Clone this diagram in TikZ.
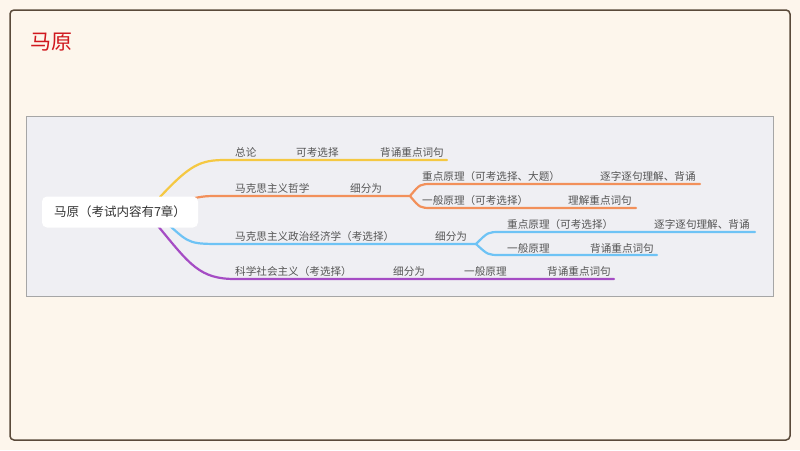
\documentclass[tikz,border=0pt]{standalone}
\usepackage{fontspec}
\setmainfont{Noto Sans CJK SC}
\definecolor{cream}{HTML}{FDF6EC}
\definecolor{frame}{HTML}{5A4A3A}
\definecolor{panel}{HTML}{EFEFF3}
\definecolor{ttl}{HTML}{D0181E}
\definecolor{yel}{HTML}{F5C842}
\definecolor{ora}{HTML}{F2905A}
\definecolor{blu}{HTML}{6EC3F5}
\definecolor{pur}{HTML}{A54CC4}
\definecolor{txt}{HTML}{555555}
\begin{document}
\begin{tikzpicture}[x=1pt,y=-1pt,
  lbl/.style={anchor=west,inner sep=0pt,text=txt,font=\fontsize{10.6}{12}\selectfont},
  br/.style={line width=2.2pt,line cap=round}]
\useasboundingbox (0,0) rectangle (800,450);
\fill[cream] (0,0) rectangle (800,450);
\draw[frame,line width=1.5pt,rounded corners=4pt] (10,10) rectangle (790,440);
\node[text=ttl,font=\fontsize{21}{24}\selectfont] (title) at (51,42) {马原};
\draw[fill=panel,draw=gray!70] (26,116) rectangle (773,296);
% branches
\draw[br,yel] (160,197) .. controls (190,165) and (200,160) .. (225,160) -- (447,160);
\draw[br,ora] (195,198) .. controls (205,196) .. (225,196) -- (410,196);
\draw[br,ora] (410,196) .. controls (420,184) .. (432,184) -- (700,184);
\draw[br,ora] (410,196) .. controls (420,208) .. (432,208) -- (636,208);
\draw[br,blu] (170,226) .. controls (190,244) .. (225,244) -- (476,244);
\draw[br,blu] (476,244) .. controls (488,232) .. (500,232) -- (755,232);
\draw[br,blu] (476,244) .. controls (488,255) .. (500,255) -- (657,255);
\draw[br,pur] (158,226) .. controls (190,265) and (200,279) .. (235,279) -- (614,279);
\node[fill=white,rounded corners=5pt,minimum width=156pt,minimum height=31pt,font=\fontsize{12.5}{14}\selectfont,text=black!80] (root) at (120,212) {马原（考试内容有7章）};
% labels
\node[lbl] (a1) at (235,152) {总论};
\node[lbl] (a2) at (296,152) {可考选择};
\node[lbl] (a3) at (380,152) {背诵重点词句};
\node[lbl] (b1) at (235,188) {马克思主义哲学};
\node[lbl] (b2) at (350,188) {细分为};
\node[lbl] (b3) at (422,176) {重点原理（可考选择、大题）};
\node[lbl] (b4) at (600,176) {逐字逐句理解、背诵};
\node[lbl] (b5) at (422,200) {一般原理（可考选择）};
\node[lbl] (b6) at (568,200) {理解重点词句};
\node[lbl] (c1) at (235,236) {马克思主义政治经济学（考选择）};
\node[lbl] (c2) at (435,236) {细分为};
\node[lbl] (c3) at (507,224) {重点原理（可考选择）};
\node[lbl] (c4) at (654,224) {逐字逐句理解、背诵};
\node[lbl] (c5) at (507,248) {一般原理};
\node[lbl] (c6) at (590,248) {背诵重点词句};
\node[lbl] (d1) at (235,271) {科学社会主义（考选择）};
\node[lbl] (d2) at (393,271) {细分为};
\node[lbl] (d3) at (464,271) {一般原理};
\node[lbl] (d4) at (547,271) {背诵重点词句};
\end{tikzpicture}
\end{document}
